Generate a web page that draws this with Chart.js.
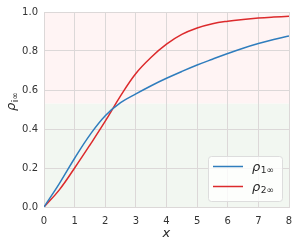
<!DOCTYPE html>
<html>
<head>
<meta charset="utf-8">
<script src="https://cdn.jsdelivr.net/npm/chart.js@4.4.0/dist/chart.umd.min.js"></script>
<style>
html, body { margin: 0; padding: 0; background: #fff; }
#wrap { width: 301px; height: 251px; }
</style>
</head>
<body>
<div id="wrap"><canvas id="myChart" width="301" height="251"></canvas></div>
<script>
// data
var xValues = [0, 0.5, 1, 1.5, 2, 2.5, 3, 3.5, 4, 4.5, 5, 5.5, 6, 6.5, 7, 7.5, 8];
var rho1 = [0, 0.12, 0.25, 0.37, 0.468, 0.535, 0.58, 0.622, 0.66, 0.695, 0.728, 0.758, 0.787, 0.814, 0.838, 0.859, 0.877];
var rho2 = [0, 0.088, 0.2, 0.318, 0.44, 0.57, 0.685, 0.768, 0.835, 0.885, 0.918, 0.94, 0.953, 0.962, 0.969, 0.974, 0.978];
var seriesSubs = ['1∞', '2∞'];
var xTicks = [0, 1, 2, 3, 4, 5, 6, 7, 8];
var yTicks = [0, 0.2, 0.4, 0.6, 0.8, 1.0];
var regionSplit = 0.53;

var colors = ['#2f7dbd', '#dc2a2c'];
var FONT = '"DejaVu Sans", sans-serif';

function toPoints(ys) {
    return xValues.map(function (x, i) { return {x: x, y: ys[i]}; });
}

// draw base letter + subscript
function drawSub(ctx, base, sub, x, y, size) {
    ctx.font = 'italic ' + size + 'px ' + FONT;
    ctx.fillText(base, x, y);
    var w = ctx.measureText(base).width;
    ctx.font = (size * 0.7) + 'px ' + FONT;
    ctx.fillText(sub, x + w + 0.5, y + size * 0.22);
}

var bgPlugin = {
    id: 'bgRegions',
    beforeDraw: function (chart) {
        var ctx = chart.ctx, a = chart.chartArea, ys = chart.scales.y;
        var ySplit = ys.getPixelForValue(regionSplit);
        ctx.save();
        ctx.fillStyle = '#fff4f4';
        ctx.fillRect(a.left, a.top, a.right - a.left, ySplit - a.top);
        ctx.fillStyle = '#f2f7f1';
        ctx.fillRect(a.left, ySplit, a.right - a.left, a.bottom - ySplit);
        ctx.restore();
    }
};

var labelPlugin = {
    id: 'labels',
    afterDraw: function (chart) {
        var ctx = chart.ctx;
        ctx.save();
        ctx.fillStyle = '#262626';
        ctx.textBaseline = 'alphabetic';
        ctx.textAlign = 'left';

        // x title
        ctx.font = 'italic 13px ' + FONT;
        ctx.fillText('x', 162.5, 237);

        // y title, rotated
        ctx.translate(15, 102);
        ctx.rotate(-Math.PI / 2);
        ctx.font = 'italic 13px ' + FONT;
        var w1 = ctx.measureText('ρ').width;
        ctx.font = '9px ' + FONT;
        var w2 = ctx.measureText('i∞').width;
        drawSub(ctx, 'ρ', 'i∞', -(w1 + w2) / 2, 0, 13);
        ctx.restore();

        // legend
        ctx.save();
        var lx = 208.5, ly = 156.5, lw = 74, lh = 45;
        ctx.beginPath();
        ctx.roundRect(lx, ly, lw, lh, 3);
        ctx.fillStyle = 'rgba(255,255,255,0.8)';
        ctx.fill();
        ctx.strokeStyle = '#dddddd';
        ctx.lineWidth = 1;
        ctx.stroke();
        for (var i = 0; i < seriesSubs.length; i++) {
            var yy = 166.5 + i * 20;
            ctx.strokeStyle = colors[i];
            ctx.lineWidth = 1.5;
            ctx.beginPath();
            ctx.moveTo(213, yy);
            ctx.lineTo(243, yy);
            ctx.stroke();
            ctx.fillStyle = '#262626';
            drawSub(ctx, 'ρ', seriesSubs[i], 252, yy + 4, 13);
        }
        ctx.restore();
    }
};

var gridColor = '#dcd8d8';

var config = {
    type: 'line',
    data: {
        datasets: [
            {data: toPoints(rho1), borderColor: colors[0], borderWidth: 1.5, pointRadius: 0, tension: 0.4, fill: false},
            {data: toPoints(rho2), borderColor: colors[1], borderWidth: 1.5, pointRadius: 0, tension: 0.4, fill: false}
        ]
    },
    options: {
        responsive: false,
        devicePixelRatio: 1,
        animation: false,
        layout: {padding: {left: 0, right: 12, top: 12, bottom: 0}},
        plugins: {legend: {display: false}, tooltip: {enabled: false}},
        scales: {
            x: {
                type: 'linear', min: 0, max: 8,
                afterFit: function (s) { s.height = 44; },
                afterBuildTicks: function (s) { s.ticks = xTicks.map(function (v) { return {value: v}; }); },
                grid: {color: gridColor, lineWidth: 1, drawTicks: false},
                border: {color: gridColor},
                ticks: {padding: 8, color: '#333333', font: {family: FONT, size: 10}, maxRotation: 0,
                    callback: function (v) { return String(v); }}
            },
            y: {
                min: 0, max: 1,
                afterFit: function (s) { s.width = 44; },
                afterBuildTicks: function (s) { s.ticks = yTicks.map(function (v) { return {value: v}; }); },
                grid: {color: gridColor, lineWidth: 1, drawTicks: false},
                border: {color: gridColor},
                ticks: {padding: 6, color: '#333333', font: {family: FONT, size: 10},
                    callback: function (v) { return v.toFixed(1); }}
            }
        }
    },
    plugins: [bgPlugin, labelPlugin]
};

var myChart = new Chart(document.getElementById('myChart'), config);
</script>
</body>
</html>
